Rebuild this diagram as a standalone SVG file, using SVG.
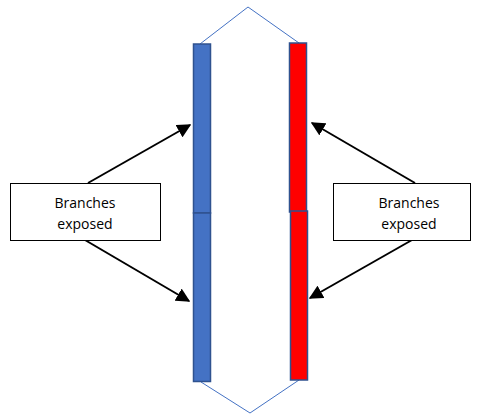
<svg xmlns="http://www.w3.org/2000/svg" width="480" height="416" viewBox="0 0 480 416">
<style>
.bar{stroke:#2f528f;stroke-width:1.5}
.blue{fill:#4472c4}
.red{fill:#ff0000}
.link{fill:none;stroke:#4472c4;stroke-width:1}
.box{fill:#fff;stroke:#000;stroke-width:1}
.lbl{font-family:"Open Sans","Liberation Sans",sans-serif;font-size:14px;fill:#000;text-anchor:middle}
.arr{stroke:#000;stroke-width:2;fill:none;marker-end:url(#ah)}
</style>
<defs>
<marker id="ah" markerWidth="8" markerHeight="8" refX="7" refY="4" orient="auto" markerUnits="userSpaceOnUse" viewBox="0 0 8 8">
<path d="M0,0 L8,4 L0,8 z" fill="#000"/>
</marker>
<marker id="ah2" viewBox="0 0 10 10" refX="9" refY="5" markerWidth="14" markerHeight="14" markerUnits="userSpaceOnUse" orient="auto">
<path d="M0,0 L10,5 L0,10 z" fill="#000"/>
</marker>
</defs>
<g id="links">
<polyline class="link" points="200,44 248,7 299,43"/>
<polyline class="link" points="201,382 250,413 299,380"/>
</g>
<g id="blue-top"><rect class="bar blue" x="193.5" y="44" width="17" height="169"/></g>
<g id="blue-bottom"><rect class="bar blue" x="193.5" y="213" width="17" height="168.5"/></g>
<g id="red-top"><rect class="bar red" x="289.5" y="43" width="17" height="169"/></g>
<g id="red-bottom"><rect class="bar red" x="290.5" y="211" width="17" height="169"/></g>
<g id="connectors">
<line class="arr" style="marker-end:url(#ah2)" x1="88" y1="183" x2="190" y2="125"/>
<line class="arr" style="marker-end:url(#ah2)" x1="85" y1="240" x2="189" y2="301"/>
<line class="arr" style="marker-end:url(#ah2)" x1="415" y1="183" x2="312" y2="123"/>
<line class="arr" style="marker-end:url(#ah2)" x1="412" y1="240" x2="310" y2="298"/>
</g>
<g id="left-label">
<rect class="box" x="10.5" y="183.5" width="150" height="57"/>
<text class="lbl" x="85" y="208">Branches</text>
<text class="lbl" x="85" y="229">exposed</text>
</g>
<g id="right-label">
<rect class="box" x="333.5" y="183.5" width="137" height="57"/>
<text class="lbl" x="409" y="208">Branches</text>
<text class="lbl" x="409" y="229">exposed</text>
</g>
</svg>
